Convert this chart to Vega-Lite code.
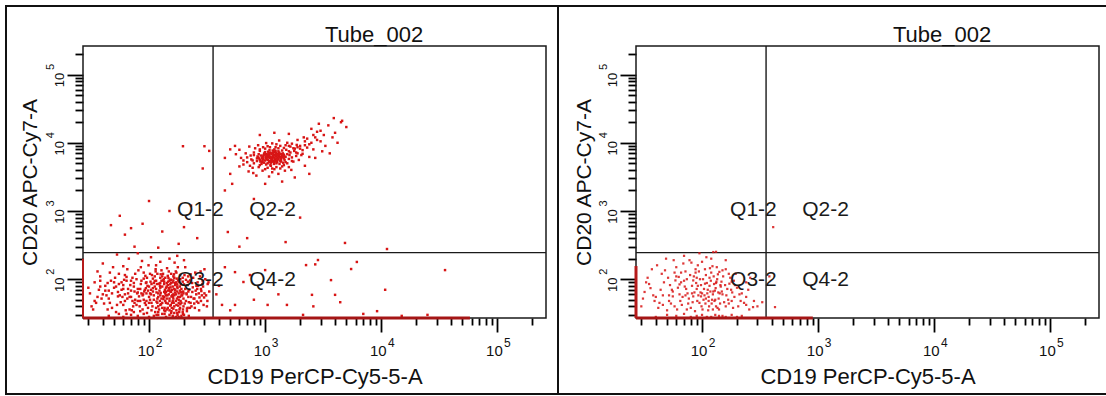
{
"$schema":"https://vega.github.io/schema/vega-lite/v6.json",
"background":"white",
"padding":{"left":5,"top":5,"right":0,"bottom":0},
"autosize":{"type":"pad"},
"bounds":"flush",
"spacing":0,
"config":{
 "view":{"stroke":"#111","strokeWidth":2,"fill":"white"},
 "axis":{"grid":false,"domain":false,"labelFont":"Liberation Sans","titleFont":"Liberation Sans","labelColor":"#111","titleColor":"#111","tickColor":"#000","labelOverlap":false,"labelFlush":false,"labelBound":false,"titleFontWeight":"normal"},
 "title":{"font":"Liberation Sans","fontWeight":"normal","fontSize":22,"color":"#111"},
 "text":{"font":"Liberation Sans"}
},
"datasets":{
 "frame":[{"x":27,"x2":262144,"y":27,"y2":262144}],
 "gate":[{"gx":356,"gy":245,"lo":27,"hi":262144}],
 "qr":[{"t":"Q1-2","x":440,"y":1035},{"t":"Q3-2","x":440,"y":97}],
 "ql":[{"t":"Q2-2","x":730,"y":1035},{"t":"Q4-2","x":730,"y":97}],
 "baseL":[{"x":27,"x2":58000,"y":27}],
 "sideL":[{"x":27,"y":27,"y2":200}],
 "baseR":[{"x":27,"x2":900,"y":27}],
 "sideR":[{"x":27,"y":27,"y2":156}],
 "L":[
{"x":1100,"y":6000},{"x":1000,"y":5500},{"x":1200,"y":6500},{"x":950,"y":6200},{"x":1300,"y":5800},{"x":1150,"y":7000},{"x":1050,"y":5000},{"x":1250,"y":6800},{"x":900,"y":5600},{"x":1400,"y":6300},
{"x":1080,"y":6600},{"x":1180,"y":5300},{"x":980,"y":6900},{"x":1320,"y":7200},{"x":1020,"y":4800},{"x":1220,"y":5700},{"x":870,"y":6100},{"x":1450,"y":6700},{"x":1120,"y":5100},{"x":1280,"y":6100},
{"x":1060,"y":7400},{"x":940,"y":5200},{"x":1350,"y":5400},{"x":1160,"y":6400},{"x":1010,"y":6300},{"x":1230,"y":7600},{"x":890,"y":5900},{"x":1380,"y":6000},{"x":1140,"y":5600},{"x":1270,"y":5200},
{"x":1030,"y":6800},{"x":960,"y":5800},{"x":1190,"y":4900},{"x":1420,"y":7000},{"x":1090,"y":7800},{"x":1310,"y":6600},{"x":920,"y":6500},{"x":1170,"y":6200},{"x":1260,"y":5500},{"x":1040,"y":5700},
{"x":1500,"y":6200},{"x":850,"y":5400},{"x":1110,"y":4700},{"x":1360,"y":5700},{"x":990,"y":7100},{"x":1210,"y":7300},{"x":1070,"y":6100},{"x":1290,"y":6900},{"x":930,"y":4900},{"x":1130,"y":6900},
{"x":1470,"y":5600},{"x":1020,"y":6000},{"x":1240,"y":6300},{"x":880,"y":6800},{"x":1330,"y":4900},{"x":1100,"y":5400},{"x":1200,"y":8000},{"x":970,"y":6600},{"x":1390,"y":6500},{"x":1150,"y":5900},
{"x":1060,"y":6400},{"x":1300,"y":7500},{"x":910,"y":5300},{"x":1180,"y":6700},{"x":1430,"y":5100},{"x":1000,"y":7300},{"x":1250,"y":5900},{"x":1120,"y":4600},{"x":1340,"y":6200},{"x":950,"y":5700},
{"x":1080,"y":5200},{"x":1220,"y":6600},{"x":1160,"y":7700},{"x":1040,"y":6700},{"x":1280,"y":5600},{"x":1400,"y":6800},{"x":860,"y":6300},{"x":1190,"y":5500},{"x":1010,"y":5900},{"x":1320,"y":6400},
{"x":1100,"y":6300},{"x":1240,"y":7100},{"x":980,"y":5100},{"x":1370,"y":5300},{"x":1130,"y":6100},{"x":1060,"y":5600},{"x":1200,"y":5200},{"x":1460,"y":6400},{"x":940,"y":6000},{"x":1170,"y":7100},
{"x":700,"y":5200},{"x":750,"y":6500},{"x":650,"y":4800},{"x":800,"y":7200},{"x":780,"y":4300},{"x":1600,"y":7500},{"x":1700,"y":6100},{"x":1800,"y":8200},{"x":1550,"y":5000},{"x":1650,"y":8800},
{"x":1900,"y":7000},{"x":2000,"y":9000},{"x":720,"y":3800},{"x":820,"y":8300},{"x":1500,"y":9200},{"x":1250,"y":9500},{"x":1050,"y":8900},{"x":950,"y":3900},{"x":1150,"y":3700},{"x":1350,"y":4200},
{"x":1600,"y":4400},{"x":1750,"y":5300},{"x":620,"y":6000},{"x":880,"y":4400},{"x":1850,"y":6400},{"x":2100,"y":7800},{"x":1450,"y":8400},{"x":1150,"y":9800},{"x":900,"y":8000},{"x":680,"y":7000},
{"x":1300,"y":3500},{"x":1000,"y":4100},{"x":1700,"y":9700},{"x":2200,"y":10500},{"x":1550,"y":10000},{"x":760,"y":5700},{"x":840,"y":3300},{"x":1950,"y":5600},{"x":1400,"y":4500},{"x":1200,"y":4100},
{"x":1080,"y":3200},{"x":1620,"y":6600},{"x":1480,"y":3900},{"x":2300,"y":8500},{"x":1780,"y":7600},{"x":600,"y":4500},{"x":1900,"y":11000},{"x":2400,"y":9500},{"x":870,"y":9200},{"x":1320,"y":10800},
{"x":730,"y":8800},{"x":1680,"y":4000},{"x":2050,"y":6600},{"x":1020,"y":9900},{"x":1520,"y":7900},{"x":790,"y":3600},{"x":1230,"y":8600},{"x":960,"y":8600},{"x":1870,"y":9300},{"x":2150,"y":12000},
{"x":2600,"y":13000},{"x":3000,"y":15000},{"x":3500,"y":18000},{"x":4000,"y":14000},{"x":2800,"y":11000},{"x":3300,"y":9000},{"x":4500,"y":20000},{"x":5000,"y":17000},{"x":2500,"y":16000},{"x":3800,"y":12000},
{"x":500,"y":3500},{"x":550,"y":9000},{"x":450,"y":6000},{"x":520,"y":2500},{"x":2700,"y":6000},{"x":3100,"y":7500},{"x":2200,"y":4600},{"x":1800,"y":3100},{"x":1400,"y":2700},{"x":1000,"y":2500},
{"x":900,"y":13000},{"x":1200,"y":14000},{"x":1600,"y":13500},{"x":4600,"y":21000},{"x":3900,"y":23000},{"x":2900,"y":19000},{"x":4200,"y":10000},{"x":500,"y":8000},{"x":3600,"y":7000},{"x":2400,"y":3500},
{"x":1000,"y":6800},{"x":1100,"y":7200},{"x":1200,"y":6000},{"x":1300,"y":6500},{"x":1150,"y":5300},{"x":1050,"y":6200},{"x":950,"y":5400},{"x":1250,"y":5000},{"x":1350,"y":6900},{"x":1450,"y":5900},
{"x":850,"y":5900},{"x":800,"y":6600},{"x":780,"y":5500},{"x":1550,"y":6800},{"x":1600,"y":5800},{"x":1650,"y":7200},{"x":1500,"y":5200},{"x":900,"y":7600},{"x":1000,"y":8200},{"x":1300,"y":8300},
{"x":1400,"y":7700},{"x":1100,"y":8600},{"x":700,"y":6100},{"x":740,"y":4600},{"x":1700,"y":5400},{"x":1850,"y":7200},{"x":2000,"y":8200},{"x":2200,"y":9200},{"x":2500,"y":10000},{"x":1350,"y":9000},
{"x":1050,"y":4300},{"x":1250,"y":4400},{"x":1450,"y":4700},{"x":900,"y":4700},{"x":800,"y":5000},{"x":1150,"y":4200},{"x":1600,"y":9000},{"x":1750,"y":8300},{"x":2100,"y":6900},{"x":1900,"y":8600},
{"x":1230,"y":5400},{"x":1130,"y":5800},{"x":1030,"y":6500},{"x":1330,"y":6100},{"x":1430,"y":6200},{"x":1080,"y":7000},{"x":1180,"y":7500},{"x":960,"y":6300},{"x":1270,"y":6600},{"x":1370,"y":5600},
{"x":2700,"y":12000},{"x":3200,"y":13000},{"x":2300,"y":11500},{"x":2600,"y":8000},{"x":3000,"y":10500},{"x":650,"y":5500},{"x":560,"y":6800},{"x":600,"y":7900},{"x":2400,"y":6200},{"x":2800,"y":14500},
{"x":35,"y":45},{"x":42,"y":80},{"x":48,"y":38},{"x":55,"y":120},{"x":62,"y":60},{"x":70,"y":95},{"x":78,"y":42},{"x":85,"y":150},{"x":92,"y":70},{"x":100,"y":55},
{"x":110,"y":88},{"x":120,"y":40},{"x":130,"y":110},{"x":140,"y":65},{"x":150,"y":35},{"x":160,"y":78},{"x":170,"y":130},{"x":180,"y":50},{"x":195,"y":92},{"x":210,"y":62},
{"x":225,"y":38},{"x":240,"y":105},{"x":260,"y":72},{"x":280,"y":48},{"x":300,"y":140},{"x":320,"y":85},{"x":31,"y":62},{"x":38,"y":110},{"x":45,"y":52},{"x":52,"y":33},
{"x":58,"y":90},{"x":65,"y":140},{"x":72,"y":48},{"x":80,"y":72},{"x":88,"y":36},{"x":96,"y":105},{"x":105,"y":45},{"x":115,"y":160},{"x":125,"y":58},{"x":135,"y":85},
{"x":145,"y":44},{"x":155,"y":98},{"x":165,"y":32},{"x":175,"y":66},{"x":185,"y":115},{"x":198,"y":40},{"x":215,"y":82},{"x":230,"y":55},{"x":250,"y":125},{"x":270,"y":35},
{"x":290,"y":95},{"x":310,"y":58},{"x":33,"y":36},{"x":40,"y":170},{"x":47,"y":95},{"x":54,"y":65},{"x":60,"y":42},{"x":67,"y":200},{"x":74,"y":78},{"x":82,"y":56},
{"x":90,"y":125},{"x":98,"y":38},{"x":108,"y":74},{"x":118,"y":52},{"x":128,"y":95},{"x":138,"y":34},{"x":148,"y":130},{"x":158,"y":58},{"x":168,"y":88},{"x":178,"y":41},
{"x":190,"y":72},{"x":205,"y":150},{"x":220,"y":46},{"x":235,"y":88},{"x":255,"y":60},{"x":275,"y":110},{"x":295,"y":42},{"x":330,"y":66},{"x":36,"y":130},{"x":43,"y":58},
{"x":50,"y":75},{"x":57,"y":46},{"x":64,"y":108},{"x":71,"y":35},{"x":79,"y":62},{"x":87,"y":185},{"x":95,"y":48},{"x":103,"y":92},{"x":113,"y":33},{"x":123,"y":68},
{"x":133,"y":51},{"x":143,"y":145},{"x":153,"y":76},{"x":163,"y":45},{"x":173,"y":102},{"x":183,"y":36},{"x":193,"y":58},{"x":208,"y":98},{"x":222,"y":70},{"x":245,"y":44},
{"x":265,"y":80},{"x":285,"y":58},{"x":305,"y":100},{"x":34,"y":90},{"x":41,"y":44},{"x":49,"y":150},{"x":56,"y":58},{"x":63,"y":35},{"x":69,"y":82},{"x":76,"y":120},
{"x":84,"y":48},{"x":91,"y":66},{"x":99,"y":160},{"x":107,"y":40},{"x":117,"y":85},{"x":127,"y":43},{"x":137,"y":70},{"x":147,"y":104},{"x":157,"y":38},{"x":167,"y":64},
{"x":177,"y":150},{"x":187,"y":48},{"x":200,"y":84},{"x":212,"y":37},{"x":228,"y":118},{"x":242,"y":52},{"x":262,"y":90},{"x":282,"y":67},{"x":315,"y":40},{"x":37,"y":70},
{"x":44,"y":36},{"x":51,"y":105},{"x":59,"y":55},{"x":66,"y":72},{"x":73,"y":40},{"x":81,"y":135},{"x":89,"y":60},{"x":97,"y":80},{"x":106,"y":115},{"x":116,"y":47},
{"x":126,"y":63},{"x":136,"y":38},{"x":146,"y":92},{"x":156,"y":56},{"x":166,"y":175},{"x":176,"y":74},{"x":186,"y":43},{"x":197,"y":66},{"x":218,"y":55},{"x":238,"y":76},
{"x":258,"y":47},{"x":278,"y":130},{"x":298,"y":54},{"x":325,"y":90},{"x":39,"y":52},{"x":46,"y":125},{"x":53,"y":42},{"x":61,"y":98},{"x":68,"y":55},{"x":75,"y":66},
{"x":83,"y":40},{"x":93,"y":112},{"x":102,"y":62},{"x":112,"y":94},{"x":122,"y":36},{"x":132,"y":120},{"x":142,"y":52},{"x":152,"y":84},{"x":162,"y":60},{"x":172,"y":35},
{"x":182,"y":92},{"x":192,"y":64},{"x":203,"y":44},{"x":217,"y":110},{"x":232,"y":40},{"x":252,"y":68},{"x":272,"y":54},{"x":292,"y":78},{"x":32,"y":40},{"x":38,"y":95},
{"x":45,"y":68},{"x":53,"y":230},{"x":60,"y":82},{"x":68,"y":36},{"x":76,"y":50},{"x":86,"y":95},{"x":94,"y":42},{"x":104,"y":70},{"x":114,"y":130},{"x":124,"y":48},
{"x":134,"y":100},{"x":144,"y":58},{"x":154,"y":42},{"x":164,"y":118},{"x":174,"y":52},{"x":184,"y":78},{"x":196,"y":36},{"x":211,"y":60},{"x":226,"y":96},{"x":248,"y":38},
{"x":268,"y":62},{"x":288,"y":85},{"x":318,"y":48},{"x":104,"y":210},{"x":125,"y":180},{"x":150,"y":200},{"x":80,"y":240},{"x":60,"y":155},{"x":200,"y":190},{"x":175,"y":220},
{"x":140,"y":75},{"x":145,"y":82},{"x":150,"y":70},{"x":155,"y":65},{"x":160,"y":90},{"x":165,"y":72},{"x":170,"y":60},{"x":135,"y":55},{"x":130,"y":78},{"x":120,"y":62},
{"x":115,"y":72},{"x":110,"y":58},{"x":125,"y":88},{"x":160,"y":48},{"x":175,"y":84},{"x":180,"y":62},{"x":150,"y":52},{"x":140,"y":45},{"x":130,"y":38},{"x":120,"y":33},
{"x":100,"y":78},{"x":95,"y":62},{"x":90,"y":50},{"x":85,"y":85},{"x":80,"y":64},{"x":75,"y":45},{"x":70,"y":68},{"x":65,"y":52},{"x":60,"y":72},{"x":55,"y":85},
{"x":190,"y":45},{"x":185,"y":55},{"x":195,"y":105},{"x":205,"y":72},{"x":215,"y":38},{"x":165,"y":105},{"x":155,"y":120},{"x":145,"y":112},{"x":135,"y":65},{"x":125,"y":105},
{"x":112,"y":110},{"x":118,"y":120},{"x":128,"y":135},{"x":138,"y":48},{"x":148,"y":60},{"x":158,"y":70},{"x":168,"y":82},{"x":178,"y":96},{"x":188,"y":64},{"x":198,"y":52},
{"x":72,"y":105},{"x":66,"y":62},{"x":58,"y":70},{"x":48,"y":62},{"x":42,"y":68},{"x":36,"y":55},{"x":44,"y":88},{"x":52,"y":78},{"x":62,"y":115},{"x":74,"y":88},
{"x":84,"y":72},{"x":94,"y":88},{"x":102,"y":50},{"x":108,"y":102},{"x":116,"y":64},{"x":124,"y":80},{"x":132,"y":56},{"x":142,"y":88},{"x":152,"y":98},{"x":162,"y":52},
{"x":95,"y":90},{"x":105,"y":85},{"x":115,"y":95},{"x":125,"y":75},{"x":135,"y":92},{"x":145,"y":68},{"x":155,"y":88},{"x":165,"y":58},{"x":175,"y":78},{"x":185,"y":68},
{"x":100,"y":45},{"x":110,"y":50},{"x":120,"y":55},{"x":130,"y":45},{"x":140,"y":58},{"x":150,"y":48},{"x":160,"y":55},{"x":170,"y":48},{"x":180,"y":45},{"x":190,"y":58},
{"x":105,"y":35},{"x":115,"y":38},{"x":125,"y":42},{"x":135,"y":35},{"x":145,"y":38},{"x":155,"y":32},{"x":165,"y":40},{"x":175,"y":32},{"x":185,"y":38},{"x":195,"y":33},
{"x":88,"y":58},{"x":92,"y":45},{"x":98,"y":68},{"x":108,"y":66},{"x":118,"y":45},{"x":128,"y":52},{"x":138,"y":62},{"x":148,"y":74},{"x":158,"y":45},{"x":168,"y":70},
{"x":178,"y":55},{"x":188,"y":84},{"x":198,"y":62},{"x":208,"y":48},{"x":218,"y":66},{"x":228,"y":45},{"x":80,"y":48},{"x":70,"y":55},{"x":62,"y":48},{"x":54,"y":56},
{"x":46,"y":45},{"x":40,"y":60},{"x":34,"y":48},{"x":30,"y":75},{"x":38,"y":78},{"x":50,"y":90},{"x":64,"y":95},{"x":78,"y":100},{"x":90,"y":102},{"x":102,"y":120},
{"x":114,"y":140},{"x":126,"y":118},{"x":138,"y":105},{"x":150,"y":95},{"x":162,"y":110},{"x":172,"y":125},{"x":186,"y":100},{"x":202,"y":115},{"x":216,"y":92},{"x":236,"y":65},
{"x":246,"y":52},{"x":256,"y":80},{"x":266,"y":45},{"x":280,"y":72},{"x":300,"y":62},{"x":96,"y":32},{"x":116,"y":30},{"x":136,"y":31},{"x":156,"y":34},{"x":176,"y":30},
{"x":196,"y":31},{"x":212,"y":34},{"x":84,"y":34},{"x":74,"y":33},{"x":64,"y":31},{"x":142,"y":36},{"x":152,"y":41},{"x":162,"y":37},{"x":172,"y":42},{"x":182,"y":33},
{"x":122,"y":86},{"x":132,"y":96},{"x":142,"y":78},{"x":152,"y":66},{"x":162,"y":96},{"x":172,"y":90},{"x":112,"y":78},{"x":104,"y":60},{"x":94,"y":74},{"x":86,"y":62},
{"x":60,"y":28},{"x":80,"y":29},{"x":100,"y":28},{"x":120,"y":30},{"x":140,"y":28},{"x":160,"y":29},{"x":180,"y":28},{"x":200,"y":30},{"x":220,"y":29},{"x":90,"y":31},
{"x":110,"y":29},{"x":130,"y":31},{"x":150,"y":30},{"x":170,"y":28},{"x":190,"y":29},{"x":45,"y":29},{"x":55,"y":31},{"x":70,"y":30},
{"x":47,"y":620},{"x":56,"y":850},{"x":62,"y":450},{"x":70,"y":560},{"x":88,"y":650},{"x":130,"y":500},{"x":200,"y":580},{"x":150,"y":1000},{"x":100,"y":1400},{"x":230,"y":1200},
{"x":196,"y":8900},{"x":300,"y":8900},{"x":330,"y":7600},{"x":290,"y":4200},{"x":180,"y":330},{"x":120,"y":290},{"x":260,"y":400},{"x":75,"y":300},
{"x":477,"y":492},{"x":4870,"y":340},{"x":11200,"y":277},{"x":600,"y":300},{"x":800,"y":1500},{"x":2000,"y":800},{"x":450,"y":2000},{"x":700,"y":400},{"x":1500,"y":350},
{"x":2850,"y":191},{"x":6160,"y":179},{"x":5500,"y":141},{"x":3690,"y":97},{"x":4000,"y":59},{"x":4430,"y":46},{"x":2530,"y":59},{"x":2600,"y":40},{"x":2250,"y":161},{"x":2700,"y":165},
{"x":10800,"y":70},{"x":35400,"y":136},{"x":9200,"y":34},{"x":2120,"y":30},{"x":1540,"y":42},{"x":550,"y":127},{"x":740,"y":115},{"x":650,"y":91},{"x":1000,"y":136},{"x":425,"y":42},
{"x":550,"y":42},{"x":1050,"y":42},{"x":400,"y":80},{"x":450,"y":150},{"x":380,"y":60},{"x":500,"y":35},{"x":1300,"y":60},{"x":800,"y":50},{"x":7000,"y":31},{"x":15000,"y":29},{"x":25000,"y":30}
 ],
 "R":[
{"x":30,"y":40},{"x":35,"y":85},{"x":40,"y":55},{"x":45,"y":120},{"x":50,"y":35},{"x":55,"y":70},{"x":60,"y":150},{"x":65,"y":48},{"x":70,"y":95},{"x":75,"y":62},
{"x":80,"y":38},{"x":85,"y":110},{"x":90,"y":72},{"x":95,"y":45},{"x":100,"y":180},{"x":105,"y":58},{"x":110,"y":88},{"x":115,"y":40},{"x":120,"y":125},{"x":125,"y":66},
{"x":130,"y":50},{"x":135,"y":100},{"x":140,"y":36},{"x":145,"y":78},{"x":150,"y":60},{"x":160,"y":140},{"x":170,"y":44},{"x":180,"y":92},{"x":190,"y":55},{"x":200,"y":75},
{"x":32,"y":65},{"x":37,"y":140},{"x":42,"y":38},{"x":47,"y":90},{"x":52,"y":58},{"x":57,"y":190},{"x":62,"y":75},{"x":67,"y":42},{"x":72,"y":130},{"x":77,"y":52},
{"x":82,"y":80},{"x":87,"y":34},{"x":92,"y":160},{"x":97,"y":64},{"x":102,"y":100},{"x":107,"y":44},{"x":112,"y":70},{"x":117,"y":145},{"x":122,"y":50},{"x":127,"y":85},
{"x":132,"y":40},{"x":137,"y":118},{"x":142,"y":62},{"x":147,"y":92},{"x":155,"y":46},{"x":165,"y":72},{"x":175,"y":105},{"x":185,"y":38},{"x":210,"y":60},{"x":230,"y":45},
{"x":34,"y":105},{"x":39,"y":48},{"x":44,"y":70},{"x":49,"y":200},{"x":54,"y":44},{"x":59,"y":96},{"x":64,"y":60},{"x":69,"y":170},{"x":74,"y":36},{"x":79,"y":115},
{"x":84,"y":56},{"x":89,"y":88},{"x":94,"y":130},{"x":99,"y":40},{"x":104,"y":72},{"x":109,"y":210},{"x":114,"y":55},{"x":119,"y":95},{"x":124,"y":36},{"x":129,"y":68},
{"x":134,"y":150},{"x":139,"y":52},{"x":144,"y":82},{"x":152,"y":110},{"x":162,"y":58},{"x":172,"y":86},{"x":182,"y":64},{"x":195,"y":120},{"x":215,"y":48},{"x":250,"y":70},
{"x":31,"y":52},{"x":36,"y":74},{"x":41,"y":160},{"x":46,"y":42},{"x":51,"y":105},{"x":56,"y":56},{"x":61,"y":36},{"x":66,"y":125},{"x":71,"y":78},{"x":76,"y":44},
{"x":81,"y":175},{"x":86,"y":64},{"x":91,"y":48},{"x":96,"y":100},{"x":101,"y":36},{"x":106,"y":140},{"x":111,"y":62},{"x":116,"y":80},{"x":121,"y":44},{"x":126,"y":110},
{"x":131,"y":74},{"x":136,"y":38},{"x":141,"y":128},{"x":148,"y":66},{"x":158,"y":82},{"x":168,"y":50},{"x":178,"y":70},{"x":188,"y":95},{"x":205,"y":40},{"x":240,"y":90},
{"x":33,"y":90},{"x":38,"y":58},{"x":43,"y":45},{"x":48,"y":135},{"x":53,"y":82},{"x":58,"y":40},{"x":63,"y":108},{"x":68,"y":55},{"x":73,"y":72},{"x":78,"y":190},
{"x":83,"y":46},{"x":88,"y":125},{"x":93,"y":58},{"x":98,"y":82},{"x":103,"y":50},{"x":108,"y":115},{"x":113,"y":35},{"x":118,"y":66},{"x":123,"y":155},{"x":128,"y":48},
{"x":133,"y":92},{"x":138,"y":64},{"x":143,"y":44},{"x":150,"y":135},{"x":160,"y":40},{"x":170,"y":120},{"x":180,"y":48},{"x":192,"y":82},{"x":220,"y":62},{"x":280,"y":48},
{"x":300,"y":40},{"x":330,"y":46},{"x":260,"y":105},{"x":240,"y":55},{"x":95,"y":240},{"x":120,"y":200},{"x":70,"y":220},{"x":160,"y":190},{"x":60,"y":110},{"x":88,"y":140},
{"x":56,"y":66},{"x":64,"y":84},{"x":72,"y":58},{"x":84,"y":96},{"x":92,"y":80},{"x":100,"y":62},{"x":108,"y":52},{"x":116,"y":105},{"x":124,"y":60},{"x":132,"y":88},
{"x":46,"y":58},{"x":52,"y":48},{"x":58,"y":125},{"x":66,"y":90},{"x":74,"y":100},{"x":82,"y":62},{"x":90,"y":105},{"x":98,"y":56},{"x":106,"y":86},{"x":114,"y":48},
{"x":40,"y":28},{"x":60,"y":29},{"x":80,"y":28},{"x":100,"y":30},{"x":120,"y":28},{"x":140,"y":29},{"x":160,"y":28},{"x":180,"y":30},{"x":200,"y":28},{"x":220,"y":29},
{"x":50,"y":30},{"x":70,"y":31},{"x":90,"y":29},{"x":110,"y":28},{"x":130,"y":30},{"x":150,"y":29},
{"x":410,"y":580},{"x":125,"y":250},{"x":132,"y":252},{"x":275,"y":39},{"x":425,"y":39},{"x":240,"y":42},{"x":255,"y":36},{"x":380,"y":110}
 ]
},
"hconcat":[
 {
  "width":552,"height":388,
  "title":{"text":"Tube_002","anchor":"start","frame":"group","dx":319,"offset":-58,"baseline":"alphabetic"},
  "resolve":{"axis":{"x":"independent","y":"independent"}},
  "layer":[
   {"data":{"name":"frame"},"mark":{"type":"rect","filled":false,"stroke":"#1a1a1a","strokeWidth":1.5},
    "encoding":{
     "x":{"field":"x","type":"quantitative","scale":{"type":"log","domain":[27,262144],"range":[77,540],"nice":false,"zero":false},
      "axis":{"orient":"bottom","offset":-76,"values":[30,40,50,60,70,80,90,100,200,300,400,500,600,700,800,900,1000,2000,3000,4000,5000,6000,7000,8000,9000,10000,20000,30000,40000,50000,60000,70000,80000,90000,100000,200000],"labels":false,"ticks":true,"tickWidth":1.8,"tickSize":{"condition":{"test":"abs(log(datum.value)/LN10-round(log(datum.value)/LN10))<0.001","value":14},"value":7},"title":"CD19 PerCP-Cy5-5-A","titleFontSize":22,"titleX":308.5,"titleY":65,"titleAlign":"center","titleBaseline":"alphabetic","titleAngle":0}},
     "x2":{"field":"x2"},
     "y":{"field":"y","type":"quantitative","scale":{"type":"log","domain":[27,262144],"range":[312,40],"nice":false,"zero":false},
      "axis":{"orient":"left","offset":-77,"values":[30,40,50,60,70,80,90,100,200,300,400,500,600,700,800,900,1000,2000,3000,4000,5000,6000,7000,8000,9000,10000,20000,30000,40000,50000,60000,70000,80000,90000,100000,200000],"labels":false,"ticks":true,"tickWidth":1.8,"tickSize":{"condition":{"test":"abs(log(datum.value)/LN10-round(log(datum.value)/LN10))<0.001","value":16},"value":8},"title":"CD20 APC-Cy7-A","titleFontSize":21,"titleAngle":270,"titleX":-47,"titleY":176,"titleAlign":"center","titleBaseline":"alphabetic"}},
     "y2":{"field":"y2"}}},
   {"data":{"name":"gate"},"mark":{"type":"rule","stroke":"#1a1a1a","strokeWidth":1.4},
    "encoding":{
     "x":{"field":"gx","type":"quantitative","axis":{"orient":"bottom","offset":-76,"values":[100,1000,10000,100000],"ticks":false,"tickSize":0,"labelExpr":"'10'","labelFontSize":15,"labelPadding":25,"labelBaseline":"top","labelAlign":"center","labelOffset":-3.5,"title":null}},
     "y":{"field":"lo","type":"quantitative","axis":{"orient":"left","offset":-77,"values":[100,1000,10000,100000],"ticks":false,"tickSize":0,"labelExpr":"'10'","labelFontSize":13,"labelAngle":270,"labelAlign":"center","labelBaseline":"alphabetic","labelPadding":19.5,"labelOffset":5,"title":null}},
     "y2":{"field":"hi"}}},
   {"data":{"name":"gate"},"mark":{"type":"rule","stroke":"#1a1a1a","strokeWidth":1.4},
    "encoding":{
     "y":{"field":"gy","type":"quantitative","axis":{"orient":"left","offset":-77,"values":[100,1000,10000,100000],"ticks":false,"tickSize":0,"labelExpr":"''+round(log(datum.value)/LN10)","labelFontSize":11,"labelAngle":270,"labelAlign":"center","labelBaseline":"alphabetic","labelPadding":29.5,"labelOffset":-8,"title":null}},
     "x":{"field":"lo","type":"quantitative","axis":{"orient":"bottom","offset":-76,"values":[100,1000,10000,100000],"ticks":false,"tickSize":0,"labelExpr":"''+round(log(datum.value)/LN10)","labelFontSize":12,"labelPadding":19,"labelBaseline":"top","labelAlign":"center","labelOffset":9.5,"title":null}},
     "x2":{"field":"hi"}}},
   {"data":{"name":"L"},"mark":{"type":"square","size":6,"color":"#d81515","opacity":1,"clip":true},
    "encoding":{"x":{"field":"x","type":"quantitative","axis":null},"y":{"field":"y","type":"quantitative","axis":null}}},
   {"data":{"name":"baseL"},"mark":{"type":"rule","stroke":"#a51616","strokeWidth":3},
    "encoding":{"x":{"field":"x","type":"quantitative","axis":null},"x2":{"field":"x2"},"y":{"field":"y","type":"quantitative","axis":null}}},
   {"data":{"name":"sideL"},"mark":{"type":"rule","stroke":"#b51a1a","strokeWidth":2},
    "encoding":{"x":{"field":"x","type":"quantitative","axis":null},"y":{"field":"y","type":"quantitative","axis":null},"y2":{"field":"y2"}}},
   {"data":{"name":"qr"},"mark":{"type":"text","align":"right","baseline":"middle","fontSize":21,"color":"#1a1a1a"},
    "encoding":{"x":{"field":"x","type":"quantitative","axis":null},"y":{"field":"y","type":"quantitative","axis":null},"text":{"field":"t"}}},
   {"data":{"name":"ql"},"mark":{"type":"text","align":"left","baseline":"middle","fontSize":21,"color":"#1a1a1a"},
    "encoding":{"x":{"field":"x","type":"quantitative","axis":null},"y":{"field":"y","type":"quantitative","axis":null},"text":{"field":"t"}}}
  ]
 },
 {
  "width":548,"height":388,
  "view":{"strokeDash":[548,388,936,4]},
  "title":{"text":"Tube_002","anchor":"start","frame":"group","dx":335,"offset":-58,"baseline":"alphabetic"},
  "resolve":{"axis":{"x":"independent","y":"independent"}},
  "layer":[
   {"data":{"name":"frame"},"mark":{"type":"rect","filled":false,"stroke":"#1a1a1a","strokeWidth":1.5},
    "encoding":{
     "x":{"field":"x","type":"quantitative","scale":{"type":"log","domain":[27,262144],"range":[78,541],"nice":false,"zero":false},
      "axis":{"orient":"bottom","offset":-76,"values":[30,40,50,60,70,80,90,100,200,300,400,500,600,700,800,900,1000,2000,3000,4000,5000,6000,7000,8000,9000,10000,20000,30000,40000,50000,60000,70000,80000,90000,100000,200000],"labels":false,"ticks":true,"tickWidth":1.8,"tickSize":{"condition":{"test":"abs(log(datum.value)/LN10-round(log(datum.value)/LN10))<0.001","value":14},"value":7},"title":"CD19 PerCP-Cy5-5-A","titleFontSize":22,"titleX":309.5,"titleY":65,"titleAlign":"center","titleBaseline":"alphabetic","titleAngle":0}},
     "x2":{"field":"x2"},
     "y":{"field":"y","type":"quantitative","scale":{"type":"log","domain":[27,262144],"range":[312,40],"nice":false,"zero":false},
      "axis":{"orient":"left","offset":-78,"values":[30,40,50,60,70,80,90,100,200,300,400,500,600,700,800,900,1000,2000,3000,4000,5000,6000,7000,8000,9000,10000,20000,30000,40000,50000,60000,70000,80000,90000,100000,200000],"labels":false,"ticks":true,"tickWidth":1.8,"tickSize":{"condition":{"test":"abs(log(datum.value)/LN10-round(log(datum.value)/LN10))<0.001","value":16},"value":8},"title":"CD20 APC-Cy7-A","titleFontSize":21,"titleAngle":270,"titleX":-46,"titleY":176,"titleAlign":"center","titleBaseline":"alphabetic"}},
     "y2":{"field":"y2"}}},
   {"data":{"name":"gate"},"mark":{"type":"rule","stroke":"#1a1a1a","strokeWidth":1.4},
    "encoding":{
     "x":{"field":"gx","type":"quantitative","axis":{"orient":"bottom","offset":-76,"values":[100,1000,10000,100000],"ticks":false,"tickSize":0,"labelExpr":"'10'","labelFontSize":15,"labelPadding":25,"labelBaseline":"top","labelAlign":"center","labelOffset":-3.5,"title":null}},
     "y":{"field":"lo","type":"quantitative","axis":{"orient":"left","offset":-78,"values":[100,1000,10000,100000],"ticks":false,"tickSize":0,"labelExpr":"'10'","labelFontSize":13,"labelAngle":270,"labelAlign":"center","labelBaseline":"alphabetic","labelPadding":19.5,"labelOffset":5,"title":null}},
     "y2":{"field":"hi"}}},
   {"data":{"name":"gate"},"mark":{"type":"rule","stroke":"#1a1a1a","strokeWidth":1.4},
    "encoding":{
     "y":{"field":"gy","type":"quantitative","axis":{"orient":"left","offset":-78,"values":[100,1000,10000,100000],"ticks":false,"tickSize":0,"labelExpr":"''+round(log(datum.value)/LN10)","labelFontSize":11,"labelAngle":270,"labelAlign":"center","labelBaseline":"alphabetic","labelPadding":29.5,"labelOffset":-8,"title":null}},
     "x":{"field":"lo","type":"quantitative","axis":{"orient":"bottom","offset":-76,"values":[100,1000,10000,100000],"ticks":false,"tickSize":0,"labelExpr":"''+round(log(datum.value)/LN10)","labelFontSize":12,"labelPadding":19,"labelBaseline":"top","labelAlign":"center","labelOffset":9.5,"title":null}},
     "x2":{"field":"hi"}}},
   {"data":{"name":"R"},"mark":{"type":"square","size":5,"color":"#d81515","opacity":0.85,"clip":true},
    "encoding":{"x":{"field":"x","type":"quantitative","axis":null},"y":{"field":"y","type":"quantitative","axis":null}}},
   {"data":{"name":"baseR"},"mark":{"type":"rule","stroke":"#a51616","strokeWidth":3},
    "encoding":{"x":{"field":"x","type":"quantitative","axis":null},"x2":{"field":"x2"},"y":{"field":"y","type":"quantitative","axis":null}}},
   {"data":{"name":"sideR"},"mark":{"type":"rule","stroke":"#b51a1a","strokeWidth":3},
    "encoding":{"x":{"field":"x","type":"quantitative","axis":null},"y":{"field":"y","type":"quantitative","axis":null},"y2":{"field":"y2"}}},
   {"data":{"name":"qr"},"mark":{"type":"text","align":"right","baseline":"middle","fontSize":21,"color":"#1a1a1a"},
    "encoding":{"x":{"field":"x","type":"quantitative","axis":null},"y":{"field":"y","type":"quantitative","axis":null},"text":{"field":"t"}}},
   {"data":{"name":"ql"},"mark":{"type":"text","align":"left","baseline":"middle","fontSize":21,"color":"#1a1a1a"},
    "encoding":{"x":{"field":"x","type":"quantitative","axis":null},"y":{"field":"y","type":"quantitative","axis":null},"text":{"field":"t"}}}
  ]
 }
]
}
